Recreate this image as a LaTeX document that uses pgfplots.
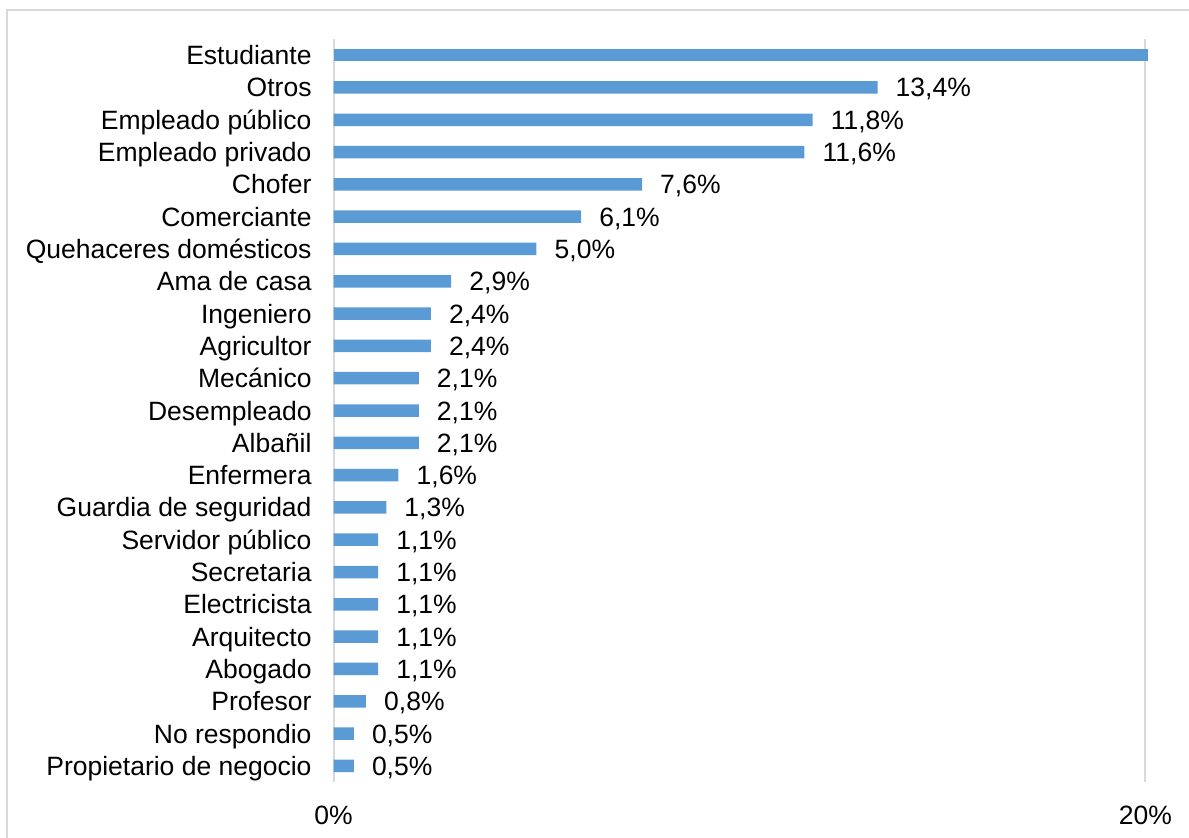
\documentclass[border=0pt]{standalone}
\usepackage{pgfplots}
\pgfplotsset{compat=1.18}
\usepackage{fontspec}
\setmainfont{Liberation Sans}
\definecolor{barblue}{HTML}{5B9BD5}
\definecolor{gridgray}{HTML}{D9D9D9}
\newcommand{\lblfont}{\fontsize{26.5}{32}\selectfont}
\begin{document}
\begin{tikzpicture}[x=1pt,y=1pt]
\useasboundingbox (0,0) rectangle (1189,-838);
\fill[white] (0,0) rectangle (1189,-838);
\draw[gridgray, line width=2pt] (7,-850) -- (7,-10) -- (1200,-10);
\begin{axis}[
  at={(333.5pt,-782pt)}, anchor=south west,
  scale only axis, width=814.4pt, height=743pt,
  xmin=0, xmax=20.06, ymin=-0.5, ymax=22.5,
  y dir=reverse,
  xbar, bar width=12.5pt, bar shift=0pt,
  axis line style={draw=none},
  tick style={draw=none},
  xmajorgrids,
  major grid style={color=gridgray, line width=2pt},
  xtick={0,20}, xticklabels={0\%,20\%},
  ytick={0,...,22},
  yticklabels={Estudiante,Otros,Empleado público,Empleado privado,Chofer,Comerciante,Quehaceres domésticos,Ama de casa,Ingeniero,Agricultor,Mecánico,Desempleado,Albañil,Enfermera,Guardia de seguridad,Servidor público,Secretaria,Electricista,Arquitecto,Abogado,Profesor,No respondio,Propietario de negocio},
  yticklabel style={anchor=base east, inner sep=0pt, xshift=-17.5pt, yshift=-9.5pt, font=\lblfont},
  xticklabel style={anchor=north, inner sep=0pt, yshift=-24pt, font=\lblfont},
]
\addplot[fill=barblue, draw=none] coordinates {(20.3,0)};
\addplot[fill=barblue, draw=none,
  point meta=explicit symbolic,
  nodes near coords,
  nodes near coords style={anchor=base west, inner sep=0pt, xshift=18pt, yshift=-9.5pt, font=\lblfont, text=black},
] coordinates {
(13.4,1) [13,4\%]
(11.8,2) [11,8\%]
(11.6,3) [11,6\%]
(7.6,4) [7,6\%]
(6.1,5) [6,1\%]
(5.0,6) [5,0\%]
(2.9,7) [2,9\%]
(2.4,8) [2,4\%]
(2.4,9) [2,4\%]
(2.1,10) [2,1\%]
(2.1,11) [2,1\%]
(2.1,12) [2,1\%]
(1.6,13) [1,6\%]
(1.3,14) [1,3\%]
(1.1,15) [1,1\%]
(1.1,16) [1,1\%]
(1.1,17) [1,1\%]
(1.1,18) [1,1\%]
(1.1,19) [1,1\%]
(0.8,20) [0,8\%]
(0.5,21) [0,5\%]
(0.5,22) [0,5\%]
};
\end{axis}
\end{tikzpicture}
\end{document}
